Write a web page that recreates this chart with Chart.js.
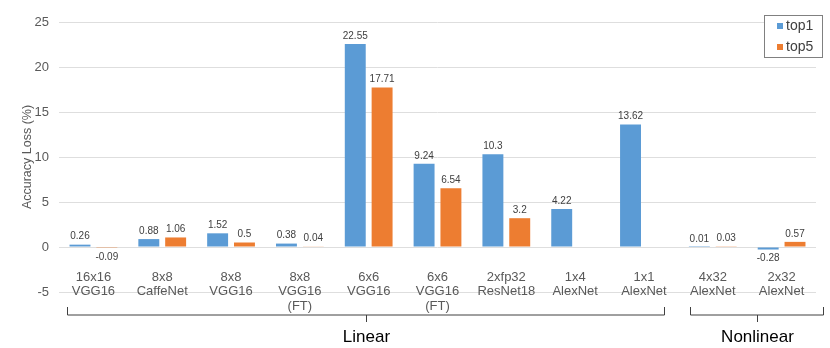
<!DOCTYPE html>
<html>
<head>
    <title>Accuracy Loss</title>
    <style>
        body { margin: 0; background: #fff; }
        #wrap { width: 830px; height: 348px; }
    </style>
</head>
<body>
    <div id="wrap"><canvas id="lossChart" width="830" height="348"></canvas></div>

    <script src="https://cdn.jsdelivr.net/npm/chart.js"></script>
    <script>
        // chart values
        const categories = [
            ['16x16', 'VGG16'], ['8x8', 'CaffeNet'], ['8x8', 'VGG16'], ['8x8', 'VGG16', '(FT)'],
            ['6x6', 'VGG16'], ['6x6', 'VGG16', '(FT)'], ['2xfp32', 'ResNet18'], ['1x4', 'AlexNet'],
            ['1x1', 'AlexNet'], ['4x32', 'AlexNet'], ['2x32', 'AlexNet']
        ];
        const top1 = [0.26, 0.88, 1.52, 0.38, 22.55, 9.24, 10.3, 4.22, 13.62, 0.01, -0.28];
        const top5 = [-0.09, 1.06, 0.5, 0.04, 17.71, 6.54, 3.2, null, null, 0.03, 0.57];
        const seriesNames = ['top1', 'top5'];
        const groupNames = ['Linear', 'Nonlinear'];
        const groupFirst = [0, 9];
        const groupLast = [8, 10];
        const yMin = -5, yMax = 25, yStep = 5;

        // bracket padding left/right in category widths
        const bracketPad = [[0.385, 0.29], [0.33, 0.6]];

        const textGray = '#595959';
        const font = '"Liberation Sans", Arial, Helvetica, sans-serif';

        const valueLabels = {
            id: 'valueLabels',
            afterDatasetsDraw(chart) {
                const ctx = chart.ctx;
                ctx.save();
                ctx.font = '10px ' + font;
                ctx.fillStyle = '#404040';
                ctx.textAlign = 'center';
                chart.data.datasets.forEach((ds, i) => {
                    const meta = chart.getDatasetMeta(i);
                    meta.data.forEach((bar, j) => {
                        const v = ds.data[j];
                        if (v === null) return;
                        if (v >= 0) {
                            ctx.textBaseline = 'bottom';
                            ctx.fillText(String(v), bar.x, bar.y - 3);
                        } else {
                            ctx.textBaseline = 'top';
                            ctx.fillText(String(v), bar.x, bar.y + 4);
                        }
                    });
                });
                ctx.restore();
            }
        };

        const catLabels = {
            id: 'catLabels',
            afterDraw(chart) {
                const ctx = chart.ctx;
                const xs = chart.scales.x;
                const area = chart.chartArea;
                ctx.save();
                ctx.font = '13px ' + font;
                ctx.fillStyle = textGray;
                ctx.textAlign = 'center';
                ctx.textBaseline = 'middle';
                categories.forEach((lines, i) => {
                    const x = xs.getPixelForValue(i);
                    lines.forEach((t, k) => {
                        ctx.fillText(t, x, area.bottom - 15 + k * 14.5);
                    });
                });

                // group brackets
                const w = xs.getPixelForValue(1) - xs.getPixelForValue(0);
                const yb = area.bottom + 23;
                ctx.strokeStyle = '#404040';
                ctx.lineWidth = 1;
                groupNames.forEach((name, g) => {
                    const x0 = Math.round(xs.getPixelForValue(groupFirst[g]) - bracketPad[g][0] * w) + 0.5;
                    const x1 = Math.round(xs.getPixelForValue(groupLast[g]) + bracketPad[g][1] * w) + 0.5;
                    const xm = Math.round((x0 + x1) / 2) + 0.5;
                    ctx.beginPath();
                    ctx.moveTo(x0, yb - 8);
                    ctx.lineTo(x0, yb);
                    ctx.lineTo(x1, yb);
                    ctx.lineTo(x1, yb - 8);
                    ctx.moveTo(xm, yb);
                    ctx.lineTo(xm, yb + 7);
                    ctx.stroke();
                    ctx.font = '17px ' + font;
                    ctx.fillStyle = '#000';
                    ctx.fillText(name, xm, area.bottom + 45);
                });
                ctx.restore();
            }
        };

        const boxLegend = {
            id: 'boxLegend',
            afterDraw(chart) {
                const ctx = chart.ctx;
                const area = chart.chartArea;
                const bx = area.right - 52, by = area.top - 7, bw = 58, bh = 42;
                ctx.save();
                ctx.fillStyle = '#fff';
                ctx.fillRect(bx, by, bw, bh);
                ctx.strokeStyle = '#808080';
                ctx.lineWidth = 1;
                ctx.strokeRect(Math.round(bx) + 0.5, Math.round(by) + 0.5, bw, bh);
                ctx.font = '14px ' + font;
                ctx.textBaseline = 'middle';
                chart.data.datasets.forEach((ds, i) => {
                    const cy = by + 11 + i * 21;
                    ctx.fillStyle = ds.backgroundColor;
                    ctx.fillRect(bx + 13, cy - 3, 6, 6);
                    ctx.fillStyle = '#404040';
                    ctx.fillText(ds.label, bx + 22, cy);
                });
                ctx.restore();
            }
        };

        new Chart(document.getElementById('lossChart').getContext('2d'), {
            type: 'bar',
            data: {
                labels: categories,
                datasets: [
                    { label: seriesNames[0], data: top1, backgroundColor: '#5B9BD5' },
                    { label: seriesNames[1], data: top5, backgroundColor: '#ED7D31' }
                ]
            },
            options: {
                responsive: false,
                animation: false,
                layout: { padding: { top: 22, right: 14, bottom: 56, left: 0 } },
                datasets: { bar: { categoryPercentage: 0.78, barPercentage: 0.78 } },
                plugins: { legend: { display: false }, tooltip: { enabled: false } },
                scales: {
                    x: { display: false },
                    y: {
                        min: yMin, max: yMax,
                        afterFit: s => { s.width = 59; },
                        ticks: { stepSize: yStep, color: textGray, font: { size: 13, family: font }, padding: 10 },
                        grid: { color: '#dedede', drawTicks: false },
                        border: { display: false },
                        title: { display: true, text: 'Accuracy Loss (%)', color: textGray, font: { size: 12.5, family: font }, padding: { top: 20, bottom: 0 } }
                    }
                }
            },
            plugins: [valueLabels, catLabels, boxLegend]
        });
    </script>
</body>
</html>
